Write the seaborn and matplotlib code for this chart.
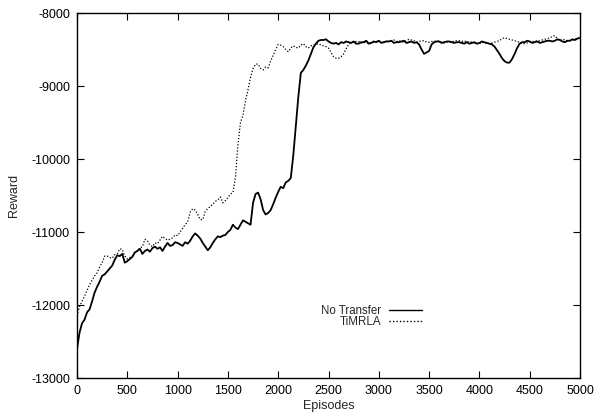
import numpy as np
import pandas as pd
import matplotlib
matplotlib.use("Agg")
import matplotlib.pyplot as plt
import seaborn as sns

episodes = list(range(0, 5001, 25))

no_transfer = [
    -12600, -12380, -12250, -12200, -12100, -12060, -11950, -11830, -11750, -11680,
    -11600, -11580, -11540, -11500, -11460, -11380, -11320, -11330, -11300, -11420,
    -11400, -11370, -11340, -11280, -11260, -11230, -11300, -11260, -11240, -11270,
    -11220, -11200, -11230, -11210, -11260, -11200, -11150, -11190, -11180, -11140,
    -11150, -11170, -11190, -11140, -11160, -11120, -11060, -11020, -11050, -11090,
    -11150, -11200, -11250, -11210, -11150, -11100, -11060, -11070, -11050, -11040,
    -11000, -10970, -10900, -10940, -10960, -10900, -10840, -10860, -10880, -10900,
    -10600, -10480, -10460, -10550, -10700, -10760, -10740, -10700, -10620, -10530,
    -10450, -10380, -10400, -10320, -10300, -10260, -9950, -9550, -9150, -8820,
    -8780, -8720, -8650, -8560, -8470, -8420, -8380, -8370, -8370, -8360,
    -8390, -8410, -8420, -8410, -8430, -8400, -8410, -8390, -8400, -8410,
    -8390, -8420, -8420, -8400, -8400, -8380, -8420, -8410, -8390, -8400,
    -8380, -8410, -8400, -8390, -8390, -8380, -8410, -8400, -8400, -8390,
    -8380, -8410, -8400, -8390, -8410, -8400, -8430, -8500, -8560, -8540,
    -8520, -8430, -8400, -8390, -8390, -8410, -8400, -8390, -8390, -8400,
    -8410, -8400, -8400, -8410, -8420, -8400, -8420, -8410, -8400, -8420,
    -8410, -8390, -8400, -8410, -8420, -8430, -8460, -8510, -8560, -8620,
    -8660, -8680, -8680, -8630, -8560, -8480, -8420, -8400, -8400, -8380,
    -8390, -8410, -8400, -8390, -8410, -8400, -8390, -8380, -8380, -8390,
    -8380, -8360, -8370, -8390, -8400, -8380, -8380, -8360, -8370, -8350,
    -8340,
]

timrla = [
    -12150, -12020, -11950, -11880, -11800, -11720, -11660, -11600, -11560, -11480,
    -11420, -11330, -11330, -11350, -11360, -11310, -11300, -11230, -11240, -11330,
    -11370, -11350, -11330, -11280, -11260, -11220, -11200, -11100, -11120, -11180,
    -11200, -11150, -11160, -11110, -11060, -11090, -11110, -11100, -11080, -11040,
    -11050, -11000, -10950, -10900, -10860, -10730, -10680, -10700, -10760, -10830,
    -10830, -10720, -10680, -10650, -10620, -10580, -10560, -10520, -10600, -10570,
    -10530, -10480, -10460, -10250, -9800, -9500, -9400, -9200, -9050, -8880,
    -8760, -8700, -8700, -8760, -8780, -8740, -8750, -8660, -8580, -8500,
    -8430, -8440, -8460, -8500, -8530, -8480, -8450, -8470, -8480, -8440,
    -8420, -8460, -8480, -8450, -8440, -8430, -8420, -8440, -8450, -8460,
    -8480, -8540, -8600, -8620, -8620, -8600, -8560, -8490, -8430, -8410,
    -8400, -8390, -8390, -8410, -8400, -8410, -8420, -8400, -8400, -8390,
    -8380, -8400, -8400, -8380, -8390, -8380, -8370, -8390, -8380, -8390,
    -8400, -8380, -8360, -8370, -8380, -8400, -8390, -8380, -8380, -8400,
    -8400, -8390, -8390, -8380, -8390, -8400, -8410, -8400, -8400, -8390,
    -8390, -8380, -8380, -8390, -8380, -8400, -8390, -8400, -8410, -8420,
    -8420, -8400, -8410, -8420, -8420, -8410, -8400, -8390, -8380, -8350,
    -8340, -8350, -8360, -8370, -8380, -8390, -8400, -8420, -8420, -8410,
    -8400, -8390, -8390, -8380, -8380, -8370, -8360, -8350, -8340, -8320,
    -8310, -8350, -8380, -8360, -8370, -8380, -8380, -8370, -8360, -8340,
    -8350,
]

x_ticks = [0, 500, 1000, 1500, 2000, 2500, 3000, 3500, 4000, 4500, 5000]
y_ticks = [-13000, -12000, -11000, -10000, -9000, -8000]

sns.set_theme(style="ticks")
plt.rcParams['font.family'] = ['Liberation Sans', 'DejaVu Sans']

fig = plt.figure(figsize=(5.94, 4.13), dpi=100)
ax = fig.add_axes([77/594, 35/413, 503/594, 365/413])

df_nt = pd.DataFrame({"Episodes": episodes, "Reward": no_transfer})
df_ti = pd.DataFrame({"Episodes": episodes, "Reward": timrla})

sns.lineplot(data=df_nt, x="Episodes", y="Reward", ax=ax, color="black",
             linewidth=1.3, label="No Transfer")
sns.lineplot(data=df_ti, x="Episodes", y="Reward", ax=ax, color="black",
             linewidth=0.9, linestyle=(0, (1, 1.5)), label="TiMRLA")

ax.set_xlim(0, 5000)
ax.set_ylim(-13000, -8000)
ax.set_xticks(x_ticks)
ax.set_yticks(y_ticks)
ax.set_xticklabels([str(v) for v in x_ticks])
ax.set_yticklabels([str(v) for v in y_ticks])
ax.tick_params(direction="in", length=5, width=0.8, top=True, right=True,
               labelsize=9, colors="black", pad=5)
for s in ax.spines.values():
    s.set_visible(True)
    s.set_linewidth(1.0)
    s.set_color("black")
ax.set_xlabel("Episodes", fontsize=9, labelpad=2)
ax.set_ylabel("Reward", fontsize=9, labelpad=8)

leg = ax.legend(loc="center right", bbox_to_anchor=(428/594, 1 - 316.5/413),
                bbox_transform=fig.transFigure, frameon=False, markerfirst=False,
                fontsize=8.3, handlelength=2.85, handletextpad=0.7, labelspacing=-0.05,
                borderpad=0)
for line in leg.get_lines():
    line.set_linewidth(1.0)

fig.savefig("out.png", dpi=100)
